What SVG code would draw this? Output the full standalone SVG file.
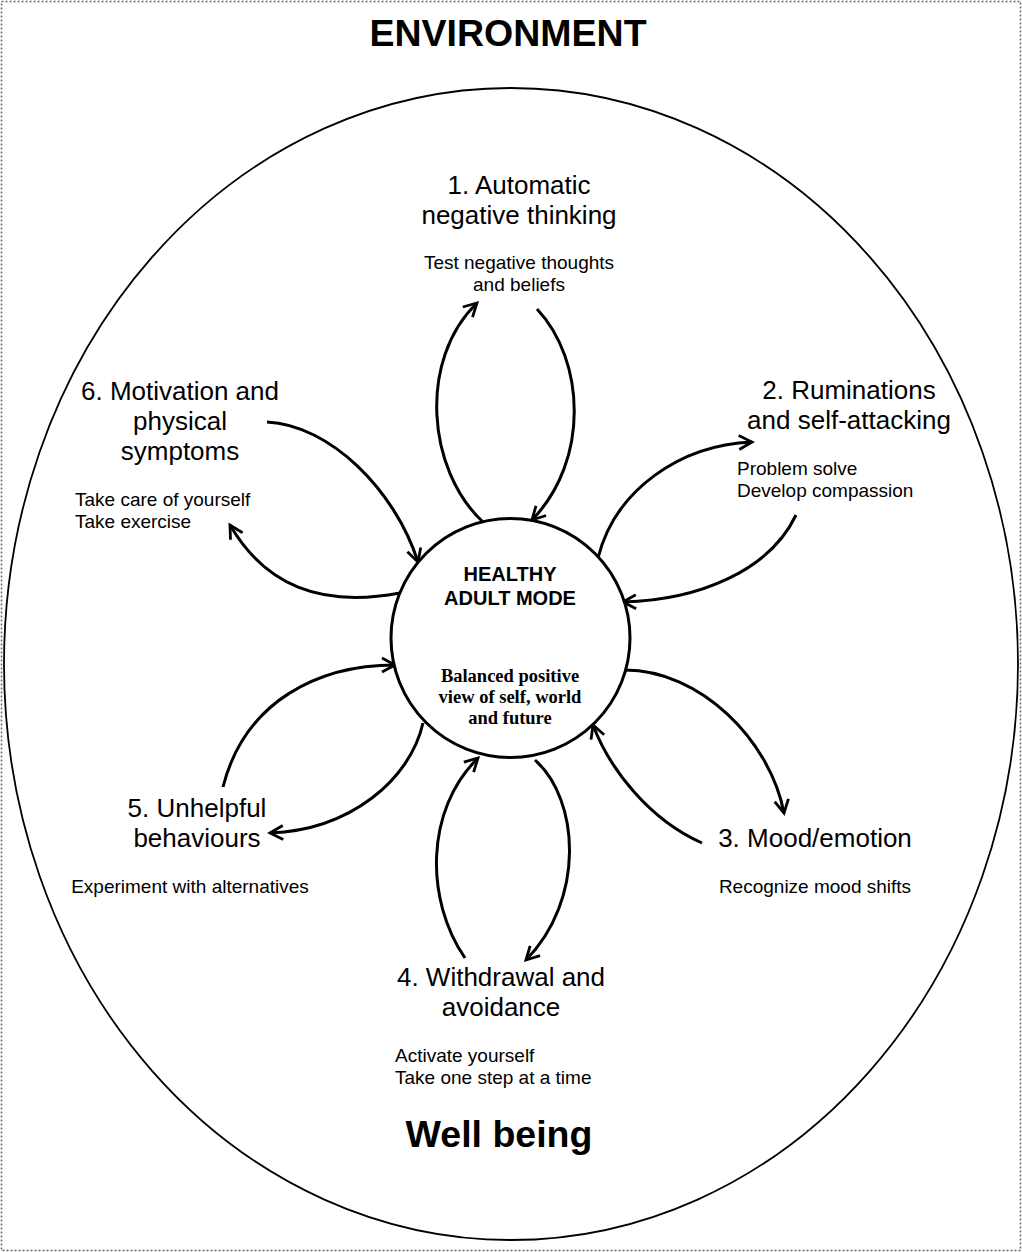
<svg xmlns="http://www.w3.org/2000/svg" width="1022" height="1252" viewBox="0 0 1022 1252">
<style>
.t{font-family:"Liberation Sans",Arial,sans-serif;fill:#000}
.h{font-size:26px;text-anchor:middle}
.s{font-size:19px}
.c{text-anchor:middle}
.b{font-weight:bold}
.big{font-size:37.5px;font-weight:bold;text-anchor:middle}
.ser{font-family:"Liberation Serif","Times New Roman",serif;font-weight:bold;font-size:18.5px;text-anchor:middle}
.arr{fill:none;stroke:#000;stroke-width:3;marker-end:url(#ah)}
</style>
<defs>
<marker id="ah" markerUnits="userSpaceOnUse" viewBox="-16 -10 20 20" markerWidth="20" markerHeight="20" refX="0" refY="0" orient="auto" overflow="visible">
<path d="M-13,-7 L0,0 L-13,7" fill="none" stroke="#000" stroke-width="2.8"/>
</marker>
</defs>
<rect x="0" y="0" width="1022" height="1252" fill="#fff"/>
<rect x="1.5" y="1.5" width="1019" height="1249" fill="none" stroke="#666" stroke-width="1.5" stroke-dasharray="2,2"/>
<g id="environment">
<text class="t big" x="508" y="46">ENVIRONMENT</text>
<ellipse cx="511" cy="664" rx="507" ry="576" fill="none" stroke="#000" stroke-width="1.8"/>
<text class="t big" x="499" y="1147">Well being</text>
</g>
<g id="connectors">
<path class="arr" d="M483,522 C427,470 418,360 477,303"/>
<path class="arr" d="M537,309 C585,360 590,460 532,520"/>
<path class="arr" d="M598,558 C615,490 680,445 752,442"/>
<path class="arr" d="M796,515 C770,570 700,600 623,602"/>
<path class="arr" d="M625,670 C700,670 770,740 784,813"/>
<path class="arr" d="M702,843 C650,820 610,770 593,725"/>
<path class="arr" d="M465,958 C425,900 425,810 478,758"/>
<path class="arr" d="M535,760 C580,800 585,900 526,960"/>
<path class="arr" d="M223,787 C245,700 320,665 395,665"/>
<path class="arr" d="M423,723 C410,780 350,830 270,833"/>
<path class="arr" d="M267,422 C330,425 395,490 418,562"/>
<path class="arr" d="M400,593 C320,608 265,585 230,525"/>
</g>
<g id="center">
<circle cx="510.5" cy="638" r="119.5" fill="#fff" stroke="#000" stroke-width="3"/>
<text class="t b c" font-size="20" x="510" y="581">HEALTHY</text>
<text class="t b c" font-size="20" x="510" y="605">ADULT MODE</text>
<text class="ser" x="510" y="682">Balanced positive</text>
<text class="ser" x="510" y="703">view of self, world</text>
<text class="ser" x="510" y="724">and future</text>
</g>
<g id="node1">
<text class="t h" x="519" y="194">1. Automatic</text>
<text class="t h" x="519" y="224">negative thinking</text>
<text class="t s c" x="519" y="269">Test negative thoughts</text>
<text class="t s c" x="519" y="291">and beliefs</text>
</g>
<g id="node2">
<text class="t h" x="849" y="399">2. Ruminations</text>
<text class="t h" x="849" y="429">and self-attacking</text>
<text class="t s" x="737" y="475">Problem solve</text>
<text class="t s" x="737" y="497">Develop compassion</text>
</g>
<g id="node3">
<text class="t h" x="815" y="847">3. Mood/emotion</text>
<text class="t s c" x="815" y="893">Recognize mood shifts</text>
</g>
<g id="node4">
<text class="t h" x="501" y="986">4. Withdrawal and</text>
<text class="t h" x="501" y="1016">avoidance</text>
<text class="t s" x="395" y="1062">Activate yourself</text>
<text class="t s" x="395" y="1084">Take one step at a time</text>
</g>
<g id="node5">
<text class="t h" x="197" y="817">5. Unhelpful</text>
<text class="t h" x="197" y="847">behaviours</text>
<text class="t s c" x="190" y="893">Experiment with alternatives</text>
</g>
<g id="node6">
<text class="t h" x="180" y="400">6. Motivation and</text>
<text class="t h" x="180" y="430">physical</text>
<text class="t h" x="180" y="460">symptoms</text>
<text class="t s" x="75" y="506">Take care of yourself</text>
<text class="t s" x="75" y="528">Take exercise</text>
</g>
</svg>
